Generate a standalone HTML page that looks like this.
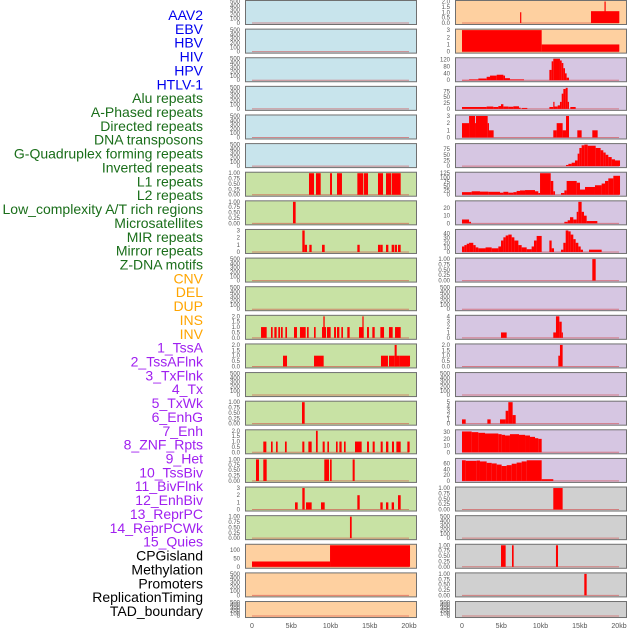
<!DOCTYPE html>
<html><head><meta charset="utf-8"><style>
html,body{margin:0;padding:0;background:#fff;width:630px;height:630px;overflow:hidden}
svg{display:block}
.lb{font-family:"Liberation Sans",sans-serif;font-size:14px;text-anchor:end}
.tk{font-family:"Liberation Sans",sans-serif;font-size:6px;fill:#555;text-anchor:end}
.xt{font-family:"Liberation Sans",sans-serif;font-size:7px;fill:#555;text-anchor:middle}
</style></head><body>
<svg id="c" width="630" height="630" xmlns="http://www.w3.org/2000/svg"></svg>
<script>
const labels=["AAV2","EBV","HBV","HIV","HPV","HTLV-1","Alu repeats","A-Phased repeats","Directed repeats","DNA transposons","G-Quadruplex forming repeats","Inverted repeats","L1 repeats","L2 repeats","Low_complexity A/T rich regions","Microsatellites","MIR repeats","Mirror repeats","Z-DNA motifs","CNV","DEL","DUP","INS","INV","1_TssA","2_TssAFlnk","3_TxFlnk","4_Tx","5_TxWk","6_EnhG","7_Enh","8_ZNF_Rpts","9_Het","10_TssBiv","11_BivFlnk","12_EnhBiv","13_ReprPC","14_ReprPCWk","15_Quies","CPGisland","Methylation","Promoters","ReplicationTiming","TAD_boundary"];
const labelColors=["#0000ee","#0000ee","#0000ee","#0000ee","#0000ee","#0000ee","#1a6e1a","#1a6e1a","#1a6e1a","#1a6e1a","#1a6e1a","#1a6e1a","#1a6e1a","#1a6e1a","#1a6e1a","#1a6e1a","#1a6e1a","#1a6e1a","#1a6e1a","#ffa500","#ffa500","#ffa500","#ffa500","#ffa500"];
const xTickValues=[0,5,10,15,20];
const xTickLabels=["0","5kb","10kb","15kb","20kb"];
const emptyTicks=[0,100,200,300,400,500];
const unitTicks=[0,0.25,0.5,0.75,1];
const unitTickLabels=["0.00","0.25","0.50","0.75","1.00"];
const twoTicks=[0,0.5,1,1.5,2];
const twoTickLabels=["0.0","0.5","1.0","1.5","2.0"];
// bars: [startKb, endKb, value]
const ebvBars=[[7.4,7.55,1],[16.43,20.04,1.1],[18.15,18.3,2]];
const hivBars=[[0,10.15,3],[10.15,20.04,1]];
const htlvBars=[[0,0.9,2],[0.9,2.08,5],[2.08,3.14,10],[3.14,3.57,20],[3.57,4.42,27],[4.42,5.27,32],[5.27,5.48,27],[5.48,6.11,12],[6.11,7.9,5],[11.13,11.42,60],[11.42,11.63,110],[11.63,12.48,125],[12.48,12.7,115],[12.7,12.91,100],[12.91,13.12,70],[13.12,13.33,40],[13.33,13.63,15]];
const aphasedBars=[[0,3.14,8],[3.14,3.99,10],[3.99,4.63,8],[4.63,4.97,12],[4.97,5.27,20],[5.27,5.9,10],[5.9,6.54,9],[6.54,7.26,11],[7.26,7.47,5],[7.6,8.32,4],[11.13,11.63,8],[11.63,11.72,30],[11.72,12.19,10],[12.19,12.48,15],[12.48,12.7,30],[12.7,12.91,65],[12.91,13.21,85],[13.21,13.46,90],[13.46,13.63,30],[13.8,14.48,8]];
const dnaTransBars=[[0,0.9,2],[0.9,1.66,3],[1.66,1.78,2],[1.78,3.27,3],[3.27,3.44,2],[3.44,4.03,1],[11.63,12.06,1],[12.06,12.82,2],[12.82,13.25,1],[13.25,13.63,3],[14.69,15.24,1],[16.6,17.28,1]];
const invertedBars=[[13.25,13.55,5],[13.55,13.97,10],[13.97,14.39,15],[14.39,14.73,25],[14.73,14.95,55],[14.95,15.24,80],[15.24,15.58,92],[15.58,16.01,95],[16.01,17.03,90],[17.03,17.66,80],[17.66,18.0,70],[18.0,18.3,60],[18.3,18.64,50],[18.64,19.07,40],[19.07,19.49,30],[19.49,20.13,25]];
const l1Bars=[[7.26,7.9,1],[8.15,8.75,1],[9.94,10.19,1],[10.83,11.46,1],[13.42,14.18,1],[14.27,14.78,1],[16.05,16.69,1],[17.07,17.71,1],[17.79,18.94,1]];
const l2Bars=[[0,1.23,15],[1.23,2.29,20],[2.29,3.35,18],[3.35,4.84,17],[4.84,5.27,12],[5.27,5.9,17],[5.9,6.54,12],[6.54,6.96,15],[6.96,7.39,22],[7.39,8.03,25],[8.03,9.3,27],[9.3,9.72,20],[9.72,9.94,10],[9.94,11.3,125],[11.3,11.63,80],[11.63,11.85,20],[12.61,13.04,10],[13.04,13.33,25],[13.33,14.61,80],[14.61,15.03,70],[15.03,15.67,30],[15.67,16.94,45],[16.94,17.79,55],[17.79,18.22,65],[18.22,18.64,80],[18.64,19.28,95],[19.28,20.13,110]];
const lowCompBars=[[5.22,5.56,1]];
const microBars=[[0,0.9,5],[0.9,1.15,2],[13.04,13.46,2],[13.46,13.76,4],[13.76,14.18,8],[14.18,14.61,5],[14.61,14.82,15],[14.82,15.24,28],[15.24,15.54,15],[15.54,15.88,10],[15.88,17.24,3]];
const mirBars=[[6.41,6.71,3],[6.71,7.01,1],[7.3,7.6,1],[8.92,9.26,1],[13.42,13.72,1],[16.05,16.35,1],[16.35,16.65,1],[17.07,17.37,1],[17.79,18.09,1],[18.17,18.47,1],[18.6,18.94,1]];
const mirrorBars=[[0,0.3,12],[0.3,0.6,15],[0.6,0.9,18],[0.9,1.44,20],[1.44,1.74,15],[1.74,2.08,10],[2.08,3.0,8],[3.0,3.78,10],[3.78,4.63,8],[4.63,4.97,12],[4.97,5.27,25],[5.27,5.56,32],[5.56,5.9,36],[5.9,6.33,38],[6.33,6.67,32],[6.67,7.18,25],[7.18,7.6,15],[7.6,8.24,10],[8.24,8.87,6],[8.87,9.17,12],[9.17,9.51,25],[9.51,10.15,35],[11.13,11.42,25],[11.42,11.72,8],[12.61,12.91,5],[12.91,13.21,20],[13.21,13.55,47],[13.55,13.84,45],[13.84,14.18,38],[14.18,14.48,28],[14.48,14.82,20],[14.82,15.12,12],[15.12,15.41,5],[16.18,17.79,5]];
const cnvBars=[[16.6,17.03,1]];
const insBars=[[1.15,1.87,1],[2.42,2.63,1],[2.85,3.14,1],[3.35,3.57,1],[3.69,3.91,1],[4.25,4.46,1],[5.35,5.73,1],[6.11,6.84,1],[7.01,7.22,1],[7.9,8.11,1],[8.92,9.43,1],[9.09,9.26,2],[9.55,10.02,1],[10.45,10.7,1],[10.83,11.13,1],[11.38,11.59,1],[12.14,12.44,1],[13.63,14.22,1],[14.06,14.22,2],[14.65,14.9,1],[15.33,15.63,1],[16.35,16.82,1],[17.45,17.92,1],[18.22,18.94,1]];
const invBars=[[4.97,5.69,1],[11.63,11.97,1],[11.97,12.4,4],[12.4,12.7,3],[12.7,12.82,1]];
const tssaBars=[[3.95,4.46,1],[7.9,9.13,1],[16.43,17.32,1],[17.45,18.13,1],[18.17,18.43,2],[18.13,18.77,1],[18.77,20.13,1]];
const tssaFlnkBars=[[12.27,12.48,1],[12.48,12.82,2]];
const txwkBars=[[6.37,6.71,1]];
const enhgBars=[[0,0.47,1],[3.23,3.65,1],[4.84,5.56,1],[5.56,5.9,3],[5.9,6.45,5],[6.45,6.84,2]];
const enhBars=[[1.44,1.83,1],[2.42,2.63,1],[3.06,3.27,1],[4.2,4.42,1],[6.41,6.67,1],[7.18,7.6,1],[8.15,8.37,2],[9.0,9.26,1],[9.6,9.81,1],[10.7,10.91,1],[11.13,11.42,1],[11.72,11.93,1],[13.12,13.97,1],[14.65,14.9,1],[15.37,15.63,1],[16.39,16.65,1],[17.07,17.37,1],[17.83,18.09,1],[18.39,18.94,1],[19.79,20.08,1]];
const znfBars=[[0,1.23,31],[1.23,2.08,30],[2.08,2.93,29],[2.93,4.63,28],[4.63,5.05,27],[5.05,5.48,26],[5.48,6.11,25],[6.11,7.26,27],[7.26,8.03,26],[8.03,8.66,25],[8.66,9.3,23],[9.3,9.72,21],[9.72,10.15,20]];
const hetBars=[[0.51,0.89,1],[1.44,1.87,1],[9.21,9.81,1],[9.94,10.15,1],[12.82,13.08,1]];
const tssBivBars=[[0,0.47,72],[0.47,1.87,70],[1.87,2.29,71],[2.29,3.14,68],[3.14,3.78,63],[3.78,4.42,61],[4.42,5.05,57],[5.05,5.69,52],[5.69,6.33,55],[6.33,6.96,60],[6.96,7.6,64],[7.6,8.24,68],[8.24,10.15,72],[10.15,11.63,6]];
const bivFlnkBars=[[5.48,5.82,1],[6.41,6.71,3],[6.88,7.6,1],[8.79,9.26,1],[13.42,13.72,2],[16.35,16.65,1],[17.07,17.37,1],[17.79,18.09,1],[18.6,18.94,2]];
const enhBivBars=[[11.63,12.82,1]];
const reprPCBars=[[12.48,12.7,1]];
const quiesBars=[[0,9.94,32],[9.94,20.13,130]];
const cpgBars=[[4.97,5.56,1],[6.37,6.58,1],[11.97,12.23,1]];
const promoterBars=[[15.58,15.88,1]];
const BLUE="#c8e4ec",GREEN="#c8e2a4",ORANGE="#fed0a0",PURPLE="#d6c6e2",GRAY="#d0d0d0";
const panelList=[
["aav2",0,0,BLUE,500,emptyTicks,null,[]],["ebv",0,1,ORANGE,2,twoTicks,twoTickLabels,ebvBars],
["hbv",1,0,BLUE,500,emptyTicks,null,[]],["hiv",1,1,ORANGE,3,[0,1,2,3],null,hivBars],
["hpv",2,0,BLUE,500,emptyTicks,null,[]],["htlv1",2,1,PURPLE,125,[0,40,80,120],null,htlvBars],
["alu",3,0,BLUE,500,emptyTicks,null,[]],["a-phased",3,1,PURPLE,92,[0,25,50,75],null,aphasedBars],
["directed",4,0,BLUE,500,emptyTicks,null,[]],["dna-transposons",4,1,PURPLE,3,[0,1,2,3],null,dnaTransBars],
["g-quadruplex",5,0,BLUE,500,emptyTicks,null,[]],["inverted",5,1,PURPLE,95,[0,25,50,75],null,invertedBars],
["l1",6,0,GREEN,1,unitTicks,unitTickLabels,l1Bars],["l2",6,1,PURPLE,125,[0,25,50,75,100,125],null,l2Bars],
["low-complexity",7,0,GREEN,1,unitTicks,unitTickLabels,lowCompBars],["microsatellites",7,1,PURPLE,28,[0,10,20],null,microBars],
["mir",8,0,GREEN,3,[0,1,2,3],null,mirBars],["mirror",8,1,PURPLE,47,[0,10,20,30,40],null,mirrorBars],
["z-dna",9,0,GREEN,500,emptyTicks,null,[]],["cnv",9,1,PURPLE,1,unitTicks,unitTickLabels,cnvBars],
["del",10,0,GREEN,500,emptyTicks,null,[]],["dup",10,1,PURPLE,500,emptyTicks,null,[]],
["ins",11,0,GREEN,2,twoTicks,twoTickLabels,insBars],["inv",11,1,PURPLE,4,[0,1,2,3,4],null,invBars],
["tssa",12,0,GREEN,2,twoTicks,twoTickLabels,tssaBars],["tssaflnk",12,1,PURPLE,2,twoTicks,twoTickLabels,tssaFlnkBars],
["txflnk",13,0,GREEN,500,emptyTicks,null,[]],["tx",13,1,PURPLE,500,emptyTicks,null,[]],
["txwk",14,0,GREEN,1,unitTicks,unitTickLabels,txwkBars],["enhg",14,1,PURPLE,5,[0,1,2,3,4,5],null,enhgBars],
["enh",15,0,GREEN,2,twoTicks,twoTickLabels,enhBars],["znf",15,1,PURPLE,32,[0,10,20,30],null,znfBars],
["het",16,0,GREEN,1,unitTicks,unitTickLabels,hetBars],["tssbiv",16,1,PURPLE,75,[0,20,40,60],null,tssBivBars],
["bivflnk",17,0,GREEN,3,[0,1,2,3],null,bivFlnkBars],["enhbiv",17,1,GRAY,1,unitTicks,unitTickLabels,enhBivBars],
["reprpc",18,0,GREEN,1,unitTicks,unitTickLabels,reprPCBars],["reprpcwk",18,1,GRAY,500,emptyTicks,null,[]],
["quies",19,0,ORANGE,130,[0,50,100],null,quiesBars],["cpgisland",19,1,GRAY,1,unitTicks,unitTickLabels,cpgBars],
["methylation",20,0,ORANGE,500,emptyTicks,null,[]],["promoters",20,1,GRAY,1,unitTicks,unitTickLabels,promoterBars],
["replication-timing",21,0,ORANGE,500,emptyTicks,null,[]],["tad-boundary",21,1,GRAY,500,emptyTicks,null,[]]
];
const NS="http://www.w3.org/2000/svg";
const svg=document.getElementById('c');
function mk(tag,attrs,parent){const e=document.createElementNS(NS,tag);for(const k in attrs)e.setAttribute(k,attrs[k]);(parent||svg).appendChild(e);return e;}
const colX0=[245.5,455.5],colW=171,kbPx=7.85;
function xScale(col,kb){return colX0[col]+6.5+kb*kbPx;}
function rowTop(r){return 0.5+r*28.62;}
function rowH(r){return r===21?16:24;}
// labels
labels.forEach((t,k)=>{
  const e=mk('text',{class:'lb',x:203,y:15+k*13.86+5,fill:k<24?labelColors[k]:(k<39?"#a020f0":"#000")});
  
  
  e.textContent=t;
});
panelList.forEach(p=>{
  const [name,r,col,bg,max,ticks,tickLabels,bars]=p;
  const g=mk('g',{});
  
  
  const top=rowTop(r),h=rowH(r),bot=top+h;
  const bg1=mk('rect',{x:colX0[col],y:top,width:colW,height:h,fill:bg},g);
  
  
  const y0=bot-1.5,y1=top+1;
  const ys=v=>y0-(v/max)*(y0-y1);
  ticks.forEach((tv,i)=>{
    const t=mk('text',{class:'tk',x:col?450:240,y:ys(tv)+2},g);
    
    
    t.textContent=tickLabels?tickLabels[i]:String(tv);
  });
  const base=mk('line',{x1:xScale(col,0),x2:xScale(col,20),y1:y0,y2:y0,stroke:'rgba(210,60,60,0.55)','stroke-width':1},g);
  
  
  bars.forEach(b=>{
    const xa=xScale(col,b[0]),xb=xScale(col,b[1]);
    const rc=mk('rect',{x:xa,y:ys(b[2]),width:Math.max(1.2,xb-xa),height:y0-ys(b[2]),fill:'#ff0000'},g);
    
    
  });
  const br=mk('rect',{x:colX0[col],y:top,width:colW,height:h,fill:'none',stroke:'#707070','stroke-width':1},g);
  
  
});
[0,1].forEach(col=>{
  xTickValues.forEach((v,i)=>{
    const t=mk('text',{class:'xt',x:xScale(col,v),y:628});
    
    
    t.textContent=xTickLabels[i];
  });
});
</script>
</body></html>
